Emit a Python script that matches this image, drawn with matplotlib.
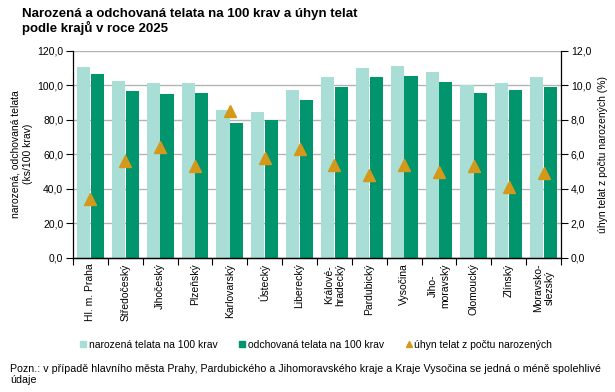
import matplotlib
matplotlib.use("Agg")
import matplotlib.pyplot as plt
import numpy as np
from matplotlib.lines import Line2D

plt.rcParams['font.family'] = ['Liberation Sans', 'DejaVu Sans']

categories = ["Hl. m. Praha", "Středočeský", "Jihočeský", "Plzeňský", "Karlovarský",
              "Ústecký", "Liberecký", "Královéhradecký", "Pardubický", "Vysočina",
              "Jihomoravský", "Olomoucký", "Zlínský", "Moravskoslezský"]
tick_labels = ["Hl. m. Praha", "Středočeský", "Jihočeský", "Plzeňský", "Karlovarský",
               "Ústecký", "Liberecký", "Králové-\nhradecký", "Pardubický", "Vysočina",
               "Jiho-\nmoravský", "Olomoucký", "Zlínský", "Moravsko-\nslezský"]
narozena = [110.7, 102.5, 101.0, 101.0, 85.8, 84.6, 97.4, 104.5, 109.7, 110.8, 107.4, 100.3, 101.5, 104.5]
odchovana = [106.6, 96.8, 94.6, 95.6, 78.3, 79.8, 91.6, 99.1, 104.5, 105.1, 102.0, 95.2, 97.3, 99.1]
uhyn = [3.4, 5.6, 6.4, 5.3, 8.5, 5.8, 6.3, 5.4, 4.8, 5.4, 5.0, 5.3, 4.1, 4.9]

c_light = "#a8ded5"
c_dark = "#00956d"
c_tri = "#d4981a"
fs = 7.5

fig = plt.figure(figsize=(6.15, 3.92), dpi=100)
ax = fig.add_axes([0.1187, 0.342, 0.7935, 0.529])
ax2 = ax.twinx()

x = np.arange(len(categories))
w = 0.375
ax.bar(x - w/2 - 0.01, narozena, width=w, color=c_light, zorder=2)
ax.bar(x + w/2 + 0.01, odchovana, width=w, color=c_dark, zorder=2)
ax2.plot(x, uhyn, linestyle='none', marker='^', markersize=9, color=c_tri, zorder=3)

ax.set_xlim(-0.5, len(categories) - 0.5)
ax.set_ylim(0, 120)
ax2.set_ylim(0, 12)
ax.set_yticks(np.arange(0, 121, 20))
ax.set_yticklabels([f"{v:.1f}".replace('.', ',') for v in np.arange(0, 121, 20)], fontsize=fs)
ax2.set_yticks(np.arange(0, 12.1, 2))
ax2.set_yticklabels([f"{v:.1f}".replace('.', ',') for v in np.arange(0, 12.1, 2)], fontsize=fs)
ax.yaxis.grid(True, color="#b4b4b4", linewidth=1.0, zorder=0)
ax.set_axisbelow(True)

ax.set_xticks(x)
ax.set_xticklabels(tick_labels, rotation=90, fontsize=fs, va='top', ha='center', multialignment='center')
ax.tick_params(axis='x', length=0, pad=4)
ax.set_xticks(np.arange(-0.5, len(categories), 1), minor=True)
ax.tick_params(axis='x', which='minor', length=5, width=0.8, direction='out')
ax.tick_params(axis='y', length=5, width=0.8, direction='out', pad=2)
ax2.tick_params(axis='y', length=5, width=0.8, direction='out', pad=2)

for a in (ax, ax2):
    a.spines['top'].set_visible(False)
    for s in ('left', 'right', 'bottom'):
        a.spines[s].set_linewidth(0.9)
ax2.spines['left'].set_visible(False)
ax.spines['right'].set_visible(False)

ax.set_ylabel("narozená, odchovaná telata\n(ks/100 krav)", fontsize=fs, labelpad=3, linespacing=1.3)
ax2.set_ylabel("úhyn telat z počtu narozených (%)", fontsize=fs, labelpad=5)

fig.text(22/615, 1 - 8/392, "Narozená a odchovaná telata na 100 krav a úhyn telat\npodle krajů v roce 2025",
         fontsize=9.5, fontweight='bold', va='top', ha='left', linespacing=1.1)

handles = [
    Line2D([], [], linestyle='none', marker='s', markersize=4, color=c_light),
    Line2D([], [], linestyle='none', marker='s', markersize=4, color=c_dark),
    Line2D([], [], linestyle='none', marker='^', markersize=4, color=c_tri),
]
labels = ["narozená telata na 100 krav", "odchovaná telata na 100 krav", "úhyn telat z počtu narozených"]
fig.legend(handles, labels, loc='center', bbox_to_anchor=(0.513, 1 - 345/392), ncol=3,
           frameon=False, fontsize=fs, handletextpad=0.1, columnspacing=2.0, handlelength=0.8)

fig.text(10/615, 1 - 364/392,
         "Pozn.: v případě hlavního města Prahy, Pardubického a Jihomoravského kraje a Kraje Vysočina se jedná o méně spolehlivé\núdaje",
         fontsize=7.65, va='top', ha='left', linespacing=1.1)

fig.savefig("out.png", dpi=100)
